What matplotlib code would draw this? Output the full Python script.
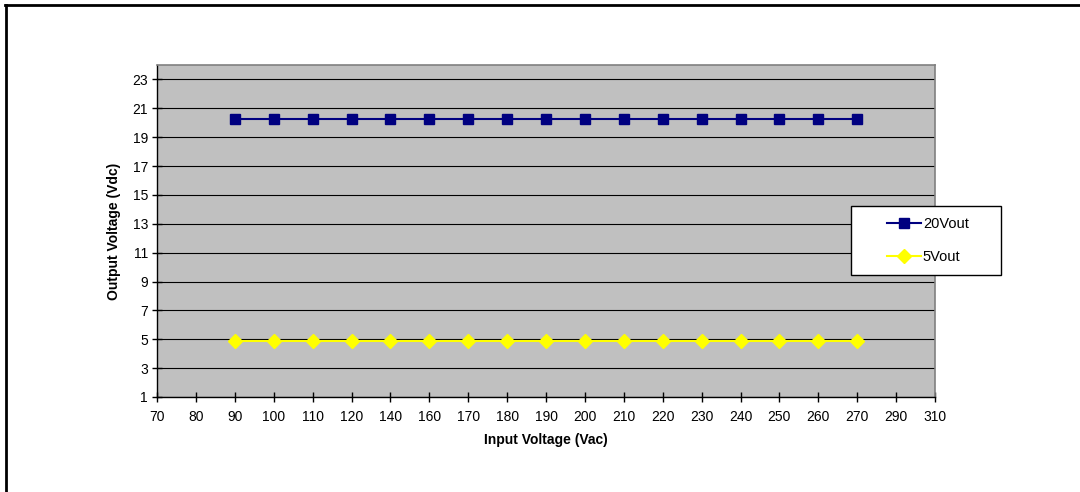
import numpy as np
import matplotlib.pyplot as plt
from matplotlib.lines import Line2D
from matplotlib.patches import Rectangle

plt.rcParams['font.family'] = ['Liberation Sans', 'DejaVu Sans']

# category labels on the x axis (Excel line chart, evenly spaced)
x_labels = ['70', '80', '90', '100', '110', '120', '140', '160', '170', '180', '190',
            '200', '210', '220', '230', '240', '250', '260', '270', '290', '310']
# measured input voltages (Vac)
vin = ['90', '100', '110', '120', '140', '160', '170', '180', '190',
       '200', '210', '220', '230', '240', '250', '260', '270']
vout_20 = [20.25, 20.25, 20.25, 20.25, 20.25, 20.25, 20.25, 20.25, 20.25,
           20.25, 20.25, 20.25, 20.25, 20.25, 20.25, 20.25, 20.25]
vout_5 = [4.9, 4.9, 4.9, 4.9, 4.9, 4.9, 4.9, 4.9, 4.9,
          4.9, 4.9, 4.9, 4.9, 4.9, 4.9, 4.9, 4.9]
y_ticks = [1, 3, 5, 7, 9, 11, 13, 15, 17, 19, 21, 23]

W, H = 1080, 492
fig = plt.figure(figsize=(W / 100, H / 100), dpi=100)
ax = fig.add_axes([157 / W, 1 - 397 / H, 778 / W, 332 / H])
ax.set_facecolor('#C0C0C0')

xpos = [x_labels.index(v) for v in vin]

ax.plot(xpos, vout_20, color='#000080', lw=1.5, marker='s', ms=7.5,
        mfc='#000080', mec='#000080', zorder=3, clip_on=False)
ax.plot(xpos, vout_5, color='#FFFF00', lw=1.5, marker='D', ms=7,
        mfc='#FFFF00', mec='#FFFF00', zorder=3, clip_on=False)

ax.set_xlim(0, len(x_labels) - 1)
ax.set_xticks(range(len(x_labels)))
ax.set_xticklabels(x_labels)
ax.set_ylim(1, 24)
ax.set_yticks(y_ticks)

ax.grid(axis='y', color='black', lw=0.8)
ax.set_axisbelow(True)

for side in ['top', 'right']:
    ax.spines[side].set_color('#808080')
    ax.spines[side].set_linewidth(1.2)
for side in ['left', 'bottom']:
    ax.spines[side].set_color('black')
    ax.spines[side].set_linewidth(1.0)

ax.tick_params(axis='both', direction='inout', length=7, width=1,
               labelsize=10, colors='black')
ax.tick_params(axis='x', pad=6)
ax.tick_params(axis='y', pad=3)

ax.set_xlabel('Input Voltage (Vac)', fontsize=10, fontweight='bold', labelpad=6)
ax.set_ylabel('Output Voltage (Vdc)', fontsize=10, fontweight='bold', labelpad=8)

# legend box drawn separately, entries centered inside it
bx0, by0, bx1, by1 = 851, 206, 1001, 275
fig.add_artist(Rectangle((bx0 / W, 1 - by1 / H), (bx1 - bx0) / W, (by1 - by0) / H,
                         transform=fig.transFigure, facecolor='white',
                         edgecolor='black', lw=1.0, zorder=4))
handles = [
    Line2D([], [], color='#000080', lw=1.5, marker='s', ms=7.5, mfc='#000080', mec='#000080'),
    Line2D([], [], color='#FFFF00', lw=1.5, marker='D', ms=7, mfc='#FFFF00', mec='#FFFF00'),
]
leg = fig.legend(handles, ['20Vout', '5Vout'], loc='center',
                 bbox_to_anchor=((bx0 + bx1) / 2 / W + 2 / W, 1 - (by0 + by1) / 2 / H),
                 fontsize=10.5, frameon=False, borderpad=0, labelspacing=1.35,
                 handlelength=2.3, handletextpad=0.15, borderaxespad=0)
leg.set_zorder(5)

# outer frame: top and left edges only
fig.add_artist(Line2D([5 / W, 1], [1 - 4.5 / H, 1 - 4.5 / H], color='black', lw=2))
fig.add_artist(Line2D([6 / W, 6 / W], [0, 1 - 4.5 / H], color='black', lw=2))

fig.savefig('out.png', dpi=100)
